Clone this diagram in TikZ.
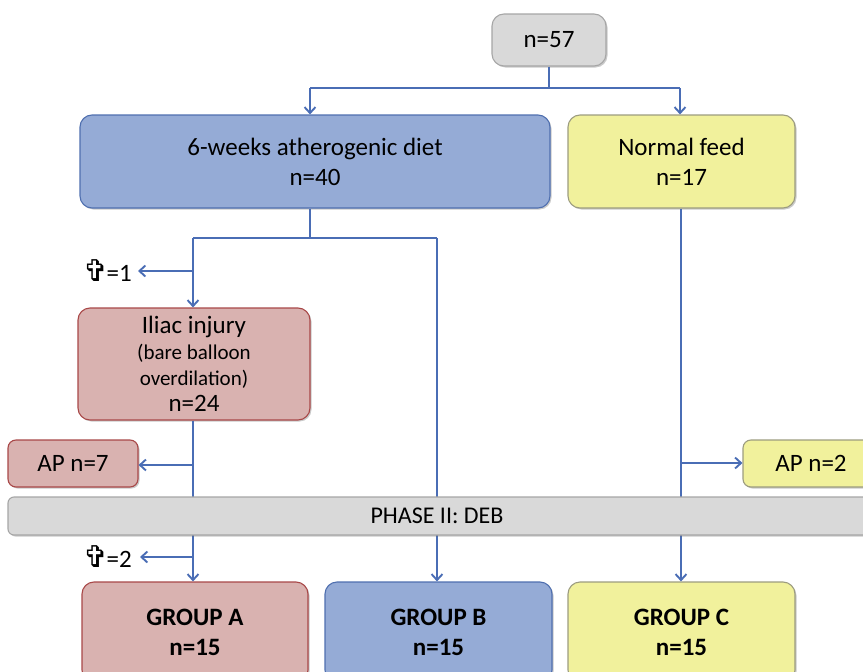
\documentclass[tikz,border=0pt]{standalone}
\usepackage{fontspec}
\setmainfont{Carlito}
\newfontfamily\symfont{DejaVu Sans}
\usetikzlibrary{arrows.meta,shadows}
\definecolor{lineblue}{HTML}{4A6DB5}
\definecolor{grayfill}{HTML}{D9D9D9}
\definecolor{grayedge}{HTML}{A6A6A6}
\definecolor{bluefill}{HTML}{95ABD6}
\definecolor{blueedge}{HTML}{4F6FAF}
\definecolor{yelfill}{HTML}{F1F19C}
\definecolor{yeledge}{HTML}{9C9C80}
\definecolor{pinkfill}{HTML}{D9B2B0}
\definecolor{pinkedge}{HTML}{A84848}
\tikzset{
  box/.style={draw, rounded corners=12pt, line width=1.1pt, align=center, inner sep=2pt,
    drop shadow={shadow xshift=1.5pt, shadow yshift=-1.5pt, opacity=0.35, fill=black!60}},
  graybox/.style={box, fill=grayfill, draw=grayedge},
  bluebox/.style={box, fill=bluefill, draw=blueedge},
  yelbox/.style={box, fill=yelfill, draw=yeledge},
  pinkbox/.style={box, fill=pinkfill, draw=pinkedge},
  conn/.style={draw=lineblue, line width=1.9pt},
  arr/.style={conn, -{Straight Barb[length=6pt,width=11pt,line width=1.9pt]}},
  txt/.style={font=\fontsize{25}{30}\selectfont},
  btxt/.style={font=\fontsize{25}{30}\selectfont\bfseries},
}
\begin{document}
\begin{tikzpicture}[x=1pt,y=-1pt]
\useasboundingbox (0,0) rectangle (863,672);
\clip (0,0) rectangle (863,672);
% boxes
\node[graybox, minimum width=114pt, minimum height=52pt, txt] (n57) at (549,40) {n=57};
\node[bluebox, minimum width=470pt, minimum height=93pt, txt] (diet) at (315,161.5) {6-weeks atherogenic diet\\n=40};
\node[yelbox, minimum width=227pt, minimum height=93pt, txt] (feed) at (681.5,161.5) {Normal feed\\n=17};
\node[pinkbox, minimum width=232pt, minimum height=112pt, font=\fontsize{25}{26}\selectfont] (iliac) at (194,364)
  {Iliac injury\\{\fontsize{21}{26}\selectfont (bare balloon}\\{\fontsize{21}{26}\selectfont overdilation)}\\n=24};
\node[pinkbox, rounded corners=8pt, minimum width=130pt, minimum height=47pt, txt] (ap7) at (73,463.5) {AP n=7};
\node[yelbox, rounded corners=8pt, minimum width=136pt, minimum height=47pt, txt] (ap2) at (811,463.5) {AP n=2};
\node[pinkbox, minimum width=226pt, minimum height=100pt, btxt] (ga) at (195,632) {GROUP A\\n=15};
\node[bluebox, minimum width=227pt, minimum height=100pt, btxt] (gb) at (438.5,632) {GROUP B\\n=15};
\node[yelbox, minimum width=227pt, minimum height=100pt, btxt] (gc) at (681.5,632) {GROUP C\\n=15};
% death labels
\node[anchor=east, inner sep=0pt, font=\fontsize{25}{28}\selectfont] (d1) at (132,271) {{\symfont\fontsize{30}{28}\selectfont ✞}\kern-2pt=1};
\node[anchor=east, inner sep=0pt, font=\fontsize{25}{28}\selectfont] (d2) at (132,557) {{\symfont\fontsize{30}{28}\selectfont ✞}\kern-2pt=2};
% branch coordinates
\coordinate (s1) at (549,88);
\coordinate (s1l) at (310,88);
\coordinate (s1r) at (680,88);
\coordinate (s2) at (310,238);
\coordinate (s2l) at (193,238);
\coordinate (s2r) at (437,238);
\coordinate (b1) at (193,271);
\coordinate (b2) at (193,465);
\coordinate (b3) at (193,557);
\coordinate (b4) at (681,463);
% connectors
\draw[conn] (n57.south) -- (s1);
\draw[conn] (s1l) -- (s1r);
\draw[arr] (s1l) -- (s1l |- diet.north);
\draw[arr] (s1r) -- (s1r |- feed.north);
\draw[conn] (s2 |- diet.south) -- (s2);
\draw[conn] (s2l) -- (s2r);
\draw[arr] (s2l) -- (s2l |- iliac.north);
\draw[arr] (s2r) -- (s2r |- gb.north);
\draw[arr] (b1) -- ([xshift=6pt]d1.east);
\draw[conn] (iliac.south -| b2) -- (b2);
\draw[arr] (b2) -- (ap7.east |- b2);
\draw[arr] (b2) -- (b2 |- ga.north);
\draw[arr] (b3) -- ([xshift=8pt]d2.east);
\draw[arr] (feed.south -| b4) -- (b4 |- gc.north);
\draw[arr] (b4) -- (ap2.west |- b4);
% phase bar
\node[graybox, rounded corners=6pt, minimum width=868pt, minimum height=38pt] (phase) at (442,516) {};
\node[font=\fontsize{24}{28}\selectfont] (phaselbl) at (437,516) {PHASE II: DEB};
\end{tikzpicture}
\end{document}
